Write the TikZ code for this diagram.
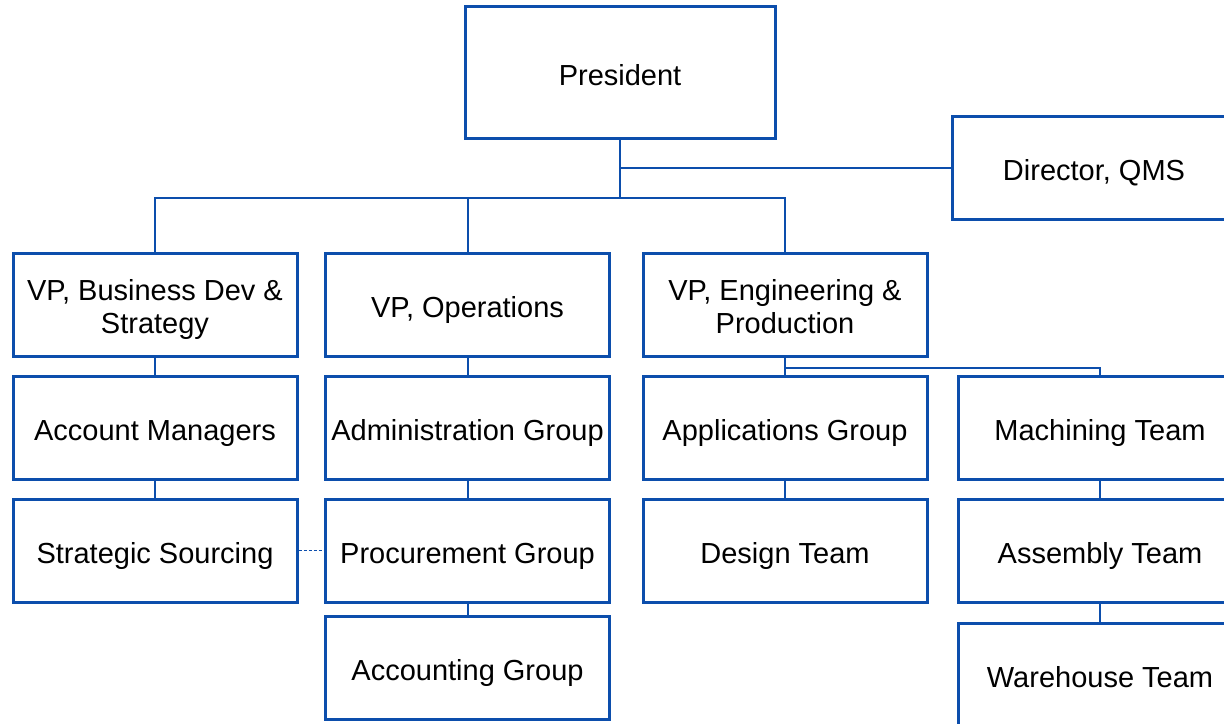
\documentclass[tikz,border=0pt]{standalone}
\usepackage{fontspec}
\setmainfont{Liberation Sans}
\usepackage{tikz}
\usetikzlibrary{shapes.geometric, arrows}
\definecolor{orgblue}{RGB}{12,78,172}
\tikzstyle{unit} = [draw=orgblue, line width=1.5pt, fill=white, align=center, minimum width=142pt, minimum height=51.5pt, inner sep=1pt, text height=15.5pt, text depth=3pt, font=\fontsize{14.5pt}{16.5pt}\selectfont]
\tikzstyle{twoline} = [unit, text height=32pt]
\tikzstyle{boss} = [unit, minimum width=155pt, minimum height=66pt]
\tikzstyle{link} = [draw=orgblue, line width=1pt]
\tikzstyle{dotlink} = [draw=orgblue, line width=0.6pt, dash pattern=on 1.5pt off 1pt]

\begin{document}
\begin{tikzpicture}[node distance=61.5pt]
\useasboundingbox (0,0) rectangle (612pt,-361.5pt);

%nodes
\node (1) [boss] at (310pt,-36.25pt) {President};
\node (2) [unit] at (547pt,-83.75pt) {Director, QMS};
\node (3) [twoline] at (77.5pt,-152.25pt) {VP, Business Dev \&\\ Strategy};
\node (4) [unit, right of=3, xshift=94.75pt] {VP, Operations};
\node (5) [twoline, right of=4, xshift=97.25pt] {VP, Engineering \&\\ Production};
\node (6) [unit, below of=3] {Account Managers};
\node (7) [unit, below of=4] {Administration Group};
\node (8) [unit, below of=5] {Applications Group};
\node (9) [unit, right of=8, xshift=96pt] {Machining Team};
\node (10) [unit, below of=6] {Strategic Sourcing};
\node (11) [unit, below of=7] {Procurement Group};
\node (12) [unit, below of=8] {Design Team};
\node (13) [unit, below of=9] {Assembly Team};
\node (14) [unit, below of=11, yshift=3pt] {Accounting Group};
\node (15) [unit, below of=13, yshift=-0.5pt] {Warehouse Team};

%lines
\draw [link] (1.south) |- (2.west);
\draw [link] (1.south) -- ++(0,-29pt) coordinate (hub);
\draw [link] (hub) -| (3.north);
\draw [link] (hub) -| (4.north);
\draw [link] (hub) -| (5.north);
\draw [link] (3) -- (6);
\draw [link] (6) -- (10);
\draw [link] (4) -- (7);
\draw [link] (7) -- (11);
\draw [link] (11) -- (14);
\draw [link] (5) -- (8);
\draw [link] (8) -- (12);
\draw [link] (5.south) -- ++(0,-5pt) -| (9.north);
\draw [link] (9) -- (13);
\draw [link] (13) -- (15);
\draw [dotlink] (10) -- (11);

\end{tikzpicture}
\end{document}
